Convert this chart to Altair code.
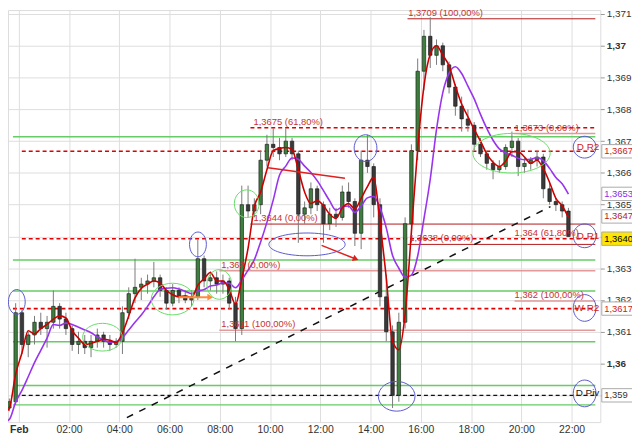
import altair as alt
import pandas as pd

# ---------------- data (15-minute candles, hours relative to 1 Feb 00:00) ----------------
T_START = -2.0
opens = [1.3577, 1.3578, 1.3580, 1.3579, 1.3582, 1.3584,
         1.3586, 1.3588, 1.3616, 1.3606, 1.3609, 1.3613, 1.3611, 1.3613, 1.3618, 1.3614,
         1.3611, 1.3606, 1.3607, 1.3605, 1.3607, 1.3609, 1.3607, 1.3606, 1.3607, 1.3616,
         1.3622, 1.3624, 1.3625, 1.3626, 1.3627, 1.3623, 1.3619, 1.3623, 1.3621, 1.3620,
         1.3621, 1.3633, 1.3626, 1.3627, 1.3625, 1.3626, 1.3619, 1.3611, 1.3650, 1.3648,
         1.3650, 1.3664, 1.3669, 1.3668, 1.3666, 1.3670, 1.3666, 1.3647, 1.3649, 1.3655,
         1.3650, 1.3644, 1.3647, 1.3646, 1.3654, 1.3651, 1.3641, 1.3664, 1.3662, 1.3650,
         1.3621, 1.3610, 1.3590, 1.3613, 1.3644, 1.3667, 1.3692, 1.3703, 1.3697, 1.3700,
         1.3694, 1.3687, 1.3681, 1.3677, 1.3675, 1.3669, 1.3666, 1.3663, 1.3661, 1.3662,
         1.3668, 1.3670, 1.3662, 1.3663, 1.3664, 1.3665, 1.3655, 1.3651, 1.3650, 1.3648]
highs = [1.3580, 1.3582, 1.3581, 1.3584, 1.3585, 1.3587,
         1.3589, 1.3619, 1.3617, 1.3610, 1.3615, 1.3616, 1.3615, 1.3623, 1.3619, 1.3616,
         1.3612, 1.3610, 1.3609, 1.3609, 1.3611, 1.3610, 1.3609, 1.3608, 1.3618, 1.3624,
         1.3633, 1.3627, 1.3628, 1.3632, 1.3628, 1.3624, 1.3625, 1.3624, 1.3623, 1.3623,
         1.3639, 1.3634, 1.3629, 1.3629, 1.3628, 1.3627, 1.3621, 1.3656, 1.3656, 1.3652,
         1.3667, 1.3672, 1.3674, 1.3671, 1.3674, 1.3671, 1.3667, 1.3651, 1.3657, 1.3656,
         1.3651, 1.3649, 1.3649, 1.3656, 1.3657, 1.3652, 1.3667, 1.3672, 1.3663, 1.3652,
         1.3628, 1.3612, 1.3616, 1.3646, 1.3669, 1.3696, 1.3705, 1.3709, 1.3702, 1.3701,
         1.3695, 1.3688, 1.3684, 1.3680, 1.3676, 1.3671, 1.3667, 1.3664, 1.3664, 1.3669,
         1.3673, 1.3671, 1.3665, 1.3665, 1.3667, 1.3666, 1.3657, 1.3652, 1.3651, 1.3649]
lows = [1.3575, 1.3577, 1.3577, 1.3578, 1.3581, 1.3583,
        1.3585, 1.3587, 1.3603, 1.3602, 1.3606, 1.3609, 1.3605, 1.3611, 1.3611, 1.3609,
        1.3604, 1.3603, 1.3603, 1.3602, 1.3605, 1.3605, 1.3604, 1.3605, 1.3603, 1.3614,
        1.3619, 1.3620, 1.3622, 1.3624, 1.3621, 1.3617, 1.3618, 1.3619, 1.3619, 1.3618,
        1.3620, 1.3624, 1.3623, 1.3622, 1.3622, 1.3617, 1.3607, 1.3609, 1.3646, 1.3646,
        1.3647, 1.3662, 1.3665, 1.3664, 1.3665, 1.3664, 1.3638, 1.3644, 1.3647, 1.3648,
        1.3638, 1.3642, 1.3643, 1.3645, 1.3649, 1.3637, 1.3636, 1.3660, 1.3646, 1.3618,
        1.3607, 1.3586, 1.3588, 1.3611, 1.3638, 1.3664, 1.3686, 1.3693, 1.3694, 1.3692,
        1.3685, 1.3678, 1.3673, 1.3673, 1.3667, 1.3665, 1.3661, 1.3658, 1.3660, 1.3661,
        1.3665, 1.3659, 1.3660, 1.3661, 1.3662, 1.3652, 1.3650, 1.3648, 1.3646, 1.3640]
closes = [1.3578, 1.3580, 1.3579, 1.3582, 1.3584, 1.3586,
          1.3588, 1.3616, 1.3606, 1.3609, 1.3613, 1.3611, 1.3613, 1.3618, 1.3614, 1.3611,
          1.3606, 1.3607, 1.3605, 1.3607, 1.3609, 1.3607, 1.3606, 1.3607, 1.3616, 1.3622,
          1.3624, 1.3625, 1.3626, 1.3627, 1.3623, 1.3619, 1.3623, 1.3621, 1.3620, 1.3621,
          1.3633, 1.3626, 1.3627, 1.3625, 1.3626, 1.3619, 1.3611, 1.3650, 1.3648, 1.3650,
          1.3664, 1.3669, 1.3668, 1.3666, 1.3670, 1.3666, 1.3647, 1.3649, 1.3655, 1.3650,
          1.3644, 1.3647, 1.3646, 1.3654, 1.3651, 1.3641, 1.3664, 1.3662, 1.3650, 1.3621,
          1.3610, 1.3590, 1.3613, 1.3644, 1.3667, 1.3692, 1.3703, 1.3697, 1.3700, 1.3694,
          1.3687, 1.3681, 1.3677, 1.3675, 1.3669, 1.3666, 1.3663, 1.3661, 1.3662, 1.3668,
          1.3670, 1.3662, 1.3663, 1.3664, 1.3665, 1.3655, 1.3651, 1.3650, 1.3648, 1.3640]

XMIN, XMAX = -0.2326, 22.946
YMIN, YMAX = 1.358158, 1.371125
FONT = "Liberation Sans"

# horizontal levels: price, start hour
green_levels = [1.36714, 1.36326, 1.36228, 1.36069, 1.35931, 1.35870]
red_dash_levels = [1.36742, 1.36668, 1.36393, 1.36173]
red_dash_start = [9.22, 0.12, 0.12, XMIN]
black_dash_levels = [1.35900]
black_dash_start = [0.12]
darkred_levels = [1.37085, 1.36439, 1.36375]
darkred_start = [15.47, 9.22, 15.47]
pink_levels = [1.36724, 1.36292, 1.36197, 1.36105]
pink_start = [19.69, 7.98, 19.73, 7.98]

# fibonacci labels
fib_text = ["1,3709 (100,00%)", "1,3675 (61,80%)", "1,3644 (0,00%)", "1,3638 (0,00%)",
            "1,363 (0,00%)", "1,3611 (100,00%)", "1,3673 (0,00%)", "1,364 (61,80%)",
            "1,362 (100,00%)"]
fib_t = [15.5, 9.34, 9.34, 15.54, 8.06, 8.06, 19.73, 19.73, 19.73]
fib_p = [1.37085, 1.36742, 1.36439, 1.36375, 1.36292, 1.36105, 1.36724, 1.36393, 1.36197]

# pivot labels
piv_text = ["D R2", "D R1", "W R2", "D Piv"]
piv_p = [1.36681, 1.36402, 1.36175, 1.35906]
piv_col = ["#cc2222", "#cc2222", "#cc2222", "#222222"]

# ellipses (centre hour, centre price, width px, height px, colour)
ell_t = [-0.08, 3.33, 6.12, 7.98, 7.13, 9.07, 11.47, 13.80, 19.61, 15.04, 22.52, 22.52, 22.52, 22.52]
ell_p = [1.36194, 1.36083, 1.36203, 1.36249, 1.36375, 1.36503, 1.36375, 1.36678, 1.36662,
         1.35897, 1.36681, 1.36402, 1.36175, 1.35906]
ell_w = [17, 40, 43, 25, 17, 25, 77, 23, 78, 37, 23, 23, 23, 23]
ell_h = [25, 28, 32, 30, 25, 28, 23, 27, 40, 30, 22, 24, 27, 27]
ell_c = ["#5a5acd", "#66dd66", "#66dd66", "#66dd66", "#5a5acd", "#66dd66", "#5a5acd",
         "#5a5acd", "#66dd66", "#5a5acd", "#5a5acd", "#5a5acd", "#5a5acd", "#5a5acd"]

# trend line, arrows, diagonal
trend = dict(t0=9.92, t1=12.98, p0=1.36616, p1=1.36583)
red_arrow = dict(t0=12.05, t1=13.41, p0=1.36372, p1=1.36329)
orange_arrow = dict(t0=6.36, t1=7.62, p0=1.36209, p1=1.36209)
diag = dict(t0=4.30, t1=21.16, p0=1.35830, p1=1.36494)

# right side value boxes
box_p = [1.36668, 1.36534, 1.36463, 1.36393, 1.36173, 1.35900]
box_txt = ["1,3667", "1,3653", "1,3647", "1,3640", "1,3617", "1,359"]
box_col = ["#cc2222", "#8a2be2", "#b22222", "#000000", "#cc2222", "#333333"]
box_fill = ["#ffffff", "#ffffff", "#ffffff", "#ffe600", "#ffffff", "#ffffff"]

# ---------------- frames ----------------
times = [T_START + 0.25 * i for i in range(len(opens))]
cdf = pd.DataFrame({"tc": [t + 0.125 for t in times], "open": opens, "high": highs,
                    "low": lows, "close": closes})

def lines_df(levels, starts):
    return pd.DataFrame({"p": levels, "t0": starts, "t1": [XMAX] * len(levels)})

green_df = lines_df(green_levels, [XMIN] * len(green_levels))
reddash_df = lines_df(red_dash_levels, red_dash_start)
blackdash_df = lines_df(black_dash_levels, black_dash_start)
darkred_df = lines_df(darkred_levels, darkred_start)
pink_df = lines_df(pink_levels, pink_start)

fib_df = pd.DataFrame({"t": fib_t, "p": fib_p, "txt": fib_text})
piv_df = pd.DataFrame({"p": piv_p, "txt": piv_text, "col": piv_col})

ell_df = pd.DataFrame({"t": ell_t, "p": ell_p, "col": ell_c,
                       "sz": [w * w for w in ell_w],
                       "path": [f"M-1,0A1,{h / w:.3f},0,1,0,1,0A1,{h / w:.3f},0,1,0,-1,0"
                                for w, h in zip(ell_w, ell_h)]})

seg_df = lambda d: pd.DataFrame([d])
box_df = pd.DataFrame({"p": box_p, "txt": box_txt, "col": box_col, "fill": box_fill,
                       "hi": [p + 0.00021 for p in box_p], "lo": [p - 0.00021 for p in box_p]})

# ---------------- scales & axes ----------------
xs = alt.Scale(domain=[XMIN, XMAX], nice=False, zero=False)
ys = alt.Scale(domain=[YMIN, YMAX], nice=False, zero=False)

xaxis = alt.Axis(values=list(range(0, 23, 2)),
                 labelExpr="datum.value == 0 ? 'Feb' : (datum.value < 10 ? '0' : '') + datum.value + ':00'",
                 title=None, grid=True, gridColor="#dedede", domain=False, ticks=False,
                 labelFontSize=10.5, labelColor="#333333", labelPadding=3, labelFont=FONT,
                 labelFlush=False, labelOverlap=False,
                 labelFontWeight=alt.condition("datum.value == 0", alt.value("bold"), alt.value("normal")))
yaxis = alt.Axis(orient="right",
                 values=[1.359, 1.36, 1.361, 1.362, 1.363, 1.364, 1.365, 1.366, 1.367, 1.368, 1.369, 1.37, 1.371],
                 labelExpr="(abs(datum.value - 1.359) < 0.00001 || abs(datum.value - 1.364) < 0.00001) ? '' : replace(format(datum.value, '.3~f'), '.', ',')",
                 title=None, grid=True, gridColor="#dedede", domain=False, tickSize=4,
                 tickColor="#999999", labelFontSize=10, labelColor="#333333", labelPadding=2,
                 labelFont=FONT, labelFlush=False, labelOverlap=False,
                 labelFontWeight=alt.condition("abs(datum.value - 1.37) < 0.00001 || abs(datum.value - 1.36) < 0.00001",
                                               alt.value("bold"), alt.value("normal")))

def X(f):
    return alt.X(f, type="quantitative", scale=xs, axis=xaxis)

def Y(f):
    return alt.Y(f, type="quantitative", scale=ys, axis=yaxis)

def hlines(df, color, width, dash=None):
    kw = dict(color=color, strokeWidth=width, clip=True)
    if dash:
        kw["strokeDash"] = dash
    return alt.Chart(df).mark_rule(**kw).encode(x=X("t0"), x2="t1", y=Y("p"))

def seg(d, color, width, dash=None):
    kw = dict(color=color, strokeWidth=width)
    if dash:
        kw["strokeDash"] = dash
    return alt.Chart(seg_df(d)).mark_rule(**kw).encode(x=X("t0"), x2="t1", y=Y("p0"), y2="p1")

layers = []
layers.append(hlines(green_df, "#66cc66", 1.5))
layers.append(hlines(pink_df, "#e39a9a", 1.5))
layers.append(hlines(darkred_df, "#b01818", 1))
layers.append(hlines(reddash_df, "#e00000", 1.6, [4, 3]))
layers.append(hlines(blackdash_df, "#111111", 1.4, [4, 3]))
layers.append(seg(diag, "#111111", 1.5, [7, 7]))

# candles
wicks = alt.Chart(cdf).mark_rule(color="#7a7a7a", strokeWidth=1, clip=True).encode(
    x=X("tc"), y=Y("low"), y2="high")
bodies = alt.Chart(cdf).mark_bar(size=3.5, stroke="#111111", strokeWidth=0.6, clip=True).encode(
    x=X("tc"), y=Y("open"), y2="close",
    fill=alt.condition("datum.close >= datum.open", alt.value("#3e7e3e"), alt.value("#3a3a3a")))
layers += [wicks, bodies]

# moving averages computed by Vega-Lite
ma = alt.Chart(cdf).transform_window(
    red="mean(close)", frame=[-2, 0], sort=[alt.SortField("tc")]
).transform_window(
    purple="mean(close)", frame=[-6, 0], sort=[alt.SortField("tc")])
layers.append(ma.mark_line(color="#9933ee", strokeWidth=1.6, interpolate="monotone", clip=True)
              .encode(x=X("tc"), y=Y("purple")))
layers.append(ma.mark_line(color="#cc0000", strokeWidth=1.6, interpolate="monotone", clip=True)
              .encode(x=X("tc"), y=Y("red")))

# trend line & arrows
layers.append(seg(trend, "#e02020", 1.5))
layers.append(seg(red_arrow, "#e02020", 1.5))
layers.append(alt.Chart(pd.DataFrame({"t": [red_arrow["t1"]], "p": [red_arrow["p1"]]}))
              .mark_point(shape="triangle-right", filled=True, color="#e02020", size=45,
                          angle=22, opacity=1).encode(x=X("t"), y=Y("p")))
layers.append(seg(orange_arrow, "#ff8c3a", 2))
layers.append(alt.Chart(pd.DataFrame({"t": [orange_arrow["t1"]], "p": [orange_arrow["p1"]]}))
              .mark_point(shape="triangle-right", filled=True, color="#ff8c3a", size=45,
                          opacity=1).encode(x=X("t"), y=Y("p")))

# ellipses
layers.append(alt.Chart(ell_df).mark_point(filled=False, strokeWidth=1, opacity=1).encode(
    x=X("t"), y=Y("p"), shape=alt.Shape("path:N", scale=None),
    size=alt.Size("sz:Q", scale=None), color=alt.Color("col:N", scale=None)))

# fib labels
layers.append(alt.Chart(fib_df).mark_text(align="left", baseline="bottom", dy=-1, fontSize=9.5,
                                          color="#c83232", font=FONT).encode(
    x=X("t"), y=Y("p"), text="txt:N"))

# pivot labels
layers.append(alt.Chart(piv_df).mark_text(align="right", baseline="middle", fontSize=10,
                                          font=FONT).encode(
    x=alt.value(597), y=Y("p"), text="txt:N", color=alt.Color("col:N", scale=None)))

# right value boxes
layers.append(alt.Chart(box_df).mark_rect(stroke="#aaaaaa", strokeWidth=1).encode(
    x=alt.value(599.5), x2=alt.value(640), y=Y("hi"), y2="lo",
    fill=alt.Fill("fill:N", scale=None)))
layers.append(alt.Chart(box_df).mark_text(align="left", baseline="middle", fontSize=9.5,
                                          font=FONT).encode(
    x=alt.value(602), y=Y("p"), text="txt:N", color=alt.Color("col:N", scale=None)))

chart = alt.layer(*layers).properties(
    width=598, height=416,
    padding={"left": 0, "top": 0, "right": 32, "bottom": 15},
    autosize=alt.AutoSizeParams(type="none"),
    background="white",
).configure_view(stroke="#999999", strokeWidth=1).configure(font=FONT)

chart.save("out.html", embed_options={"renderer": "svg", "actions": False})
